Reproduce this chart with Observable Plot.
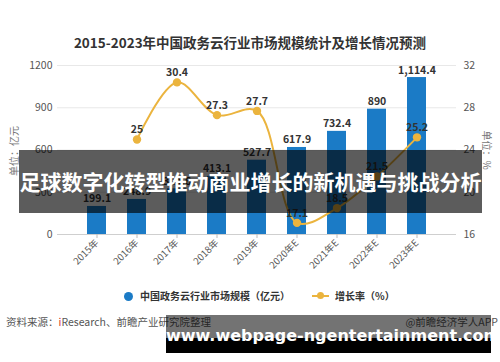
<!DOCTYPE html>
<html><head><meta charset="utf-8">
<script src="https://cdn.jsdelivr.net/npm/d3@7"></script>
<script src="https://cdn.jsdelivr.net/npm/@observablehq/plot@0.6"></script>
<style>
body{margin:0;background:#fff;font-family:"Noto Sans CJK SC","Noto Sans",sans-serif;}
#wrap{position:relative;width:500px;height:362px;overflow:hidden;background:#fff;}
.abs{position:absolute;white-space:nowrap;}
</style></head>
<body><div id="wrap"></div>
<script>
const years = ["2015年","2016年","2017年","2018年","2019年","2020年E","2021年E","2022年E","2023年E"];
const marketSize = [199.1,248.9,324.6,413.1,527.7,617.9,732.4,890,1114.4];
const growthYears = ["2016年","2017年","2018年","2019年","2020年E","2021年E","2022年E","2023年E"];
const growthRate = [25,30.4,27.3,27.7,17.1,18.5,21.5,25.2];
const leftTicks = [0,300,600,900,1200];
const rightTicks = [16,20,24,28,32];

const toLeft = g => (g - 16) * 1200 / 16;
const barData = years.map((y,i)=>({year:y, v:marketSize[i]}));
const lineData = growthYears.map((y,i)=>({year:y, g:growthRate[i], yv:toLeft(growthRate[i])}));

const BLUE = "#1b7bc6", ORANGE = "#ebb43e";
const wrap = document.getElementById("wrap");

function addDiv(html, css){ const d=document.createElement("div"); d.className="abs"; d.innerHTML=html; d.style.cssText+=css; wrap.appendChild(d); return d; }

addDiv("2015-2023年中国政务云行业市场规模统计及增长情况预测",
  "left:0;width:500px;top:32px;text-align:center;font-size:13.5px;font-weight:bold;color:#333;");

const chart = Plot.plot({
  width:500, height:230,
  marginTop:15, marginBottom:46, marginLeft:62, marginRight:50,
  style:{fontFamily:'"Noto Sans CJK SC",sans-serif', fontSize:"10px", background:"transparent", color:"#555", overflow:"visible"},
  x:{domain:years, padding:0.53, label:null},
  y:{domain:[0,1200], label:null},
  marks:[
    Plot.ruleY(leftTicks.filter(t=>t>0), {y:d=>d, stroke:"#e8e8e8", insetLeft:-5, insetRight:-6}),
    Plot.ruleY([0], {stroke:"#cfcfcf", insetLeft:-5, insetRight:-6}),
    Plot.barY(barData, {x:"year", y:"v", fill:BLUE}),
    Plot.text(barData, {x:"year", y:"v", text:d=>d3.format(",")(d.v), lineAnchor:"bottom", dy:-4, fill:"#333", fontWeight:"bold", fontSize:10.5}),
    Plot.line(lineData, {x:"year", y:"yv", stroke:ORANGE, strokeWidth:2, curve:"catmull-rom"}),
    Plot.dot(lineData, {x:"year", y:"yv", r:4.2, fill:ORANGE}),
    Plot.text(lineData, {x:"year", y:"yv", text:d=>String(d.g), lineAnchor:"bottom", dy:-6, fill:"#333", fontWeight:"bold", fontSize:10.5}),
    Plot.axisY(leftTicks, {anchor:"left", tickSize:0, tickPadding:10, tickFormat:d=>String(d), fill:"#555", fontSize:10.5}),
    Plot.axisY(leftTicks, {anchor:"right", tickSize:0, tickPadding:13, tickFormat:(d,i)=>String(rightTicks[i]), fill:"#555", fontSize:10.5}),
    Plot.axisX({tickRotate:-45, tickSize:4, stroke:"#bbb", fill:"#555", fontSize:9.5, tickPadding:3})
  ]
});
chart.style.position="absolute"; chart.style.left="0px"; chart.style.top="50px";
wrap.appendChild(chart);

// axis titles
addDiv("单位：亿元","left:13px;top:151px;transform:translate(-50%,-50%) rotate(-90deg);font-size:10px;color:#777;");
addDiv("单位：%","left:487px;top:150px;transform:translate(-50%,-50%) rotate(90deg);font-size:10px;color:#777;");

// legend
addDiv('<span style="display:inline-block;width:9px;height:9px;border-radius:50%;background:'+BLUE+';vertical-align:-1px;margin-right:7px"></span>中国政务云行业市场规模（亿元）'
 +'<span style="display:inline-block;position:relative;width:17px;height:2px;background:'+ORANGE+';vertical-align:3px;margin:0 6px 0 22px"><span style="position:absolute;left:5px;top:-3px;width:7px;height:7px;border-radius:50%;background:'+ORANGE+'"></span></span>增长率（%）',
 "left:124px;top:288px;font-size:10px;color:#333;font-weight:bold;");

// source
addDiv('资料来源：<span style="color:#d9342b">i</span>Research、前瞻产业研究院整理',"left:6px;top:314px;font-size:10.5px;color:#555;");
addDiv('@前瞻经济学人APP',"right:2px;top:314px;font-size:10.5px;color:#555;");

// overlays
addDiv("足球数字化转型推动商业增长的新机遇与挑战分析",
 "left:19px;top:150px;width:463px;height:63px;line-height:63px;background:rgba(0,0,0,0.64);color:#fff;font-size:21px;font-weight:bold;text-align:center;");
addDiv("","left:166px;top:315px;width:325px;height:23px;background:rgba(0,0,0,0.55);");
addDiv("","left:166px;top:338px;width:325px;height:15px;background:#000;");
addDiv("www.webpage-ngentertainment.com",
 'left:166px;width:325px;top:325px;text-align:center;color:#fff;font-family:"DejaVu Sans",sans-serif;font-weight:bold;font-size:16px;line-height:22px;');
</script></body></html>
